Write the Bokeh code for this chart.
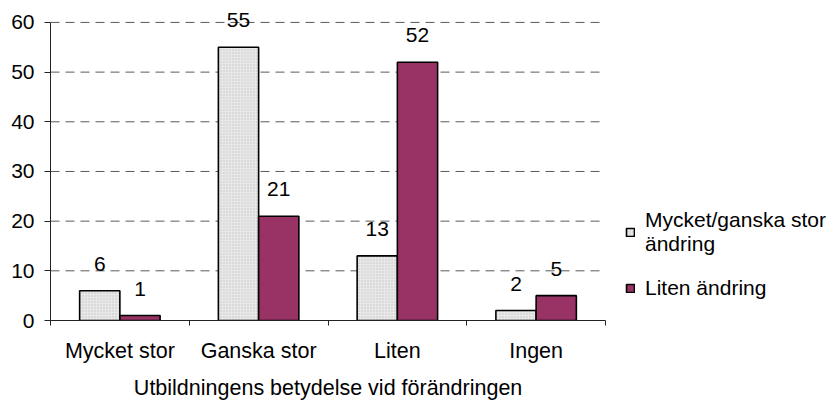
from bokeh.plotting import figure
from bokeh.models import Range1d, FixedTicker, Legend, LegendItem, ColumnDataSource, Title
from bokeh.transform import dodge
from bokeh.core.properties import value
from bokeh.embed import file_html
from bokeh.resources import INLINE

categories = ["Mycket stor", "Ganska stor", "Liten", "Ingen"]
series_names = ["Mycket/ganska stor\nändring", "Liten ändring"]
stor_andring = [6, 55, 13, 2]
liten_andring = [1, 21, 52, 5]
y_ticks = [0, 10, 20, 30, 40, 50, 60]
x_title = "Utbildningens betydelse vid förändringen"

FONT = "Liberation Sans"
FS = "21px"
AXC = "#222222"

W, H = 835, 407
LEFT, TOP, BOTTOM = 50, 12, 87
PLOT_W = 555  # width of the category area in pixels

n = len(categories)
pos = [i + 0.5 for i in range(n)]
src = ColumnDataSource(dict(
    x=pos,
    a=stor_andring,
    b=liten_andring,
    a_txt=[str(v) for v in stor_andring],
    b_txt=[str(v) for v in liten_andring],
))

# the frame spans the whole width so that the legend is not clipped;
# the category area occupies the first PLOT_W pixels of it
x_end = n * (W - LEFT) / PLOT_W
p = figure(width=W, height=H,
           x_range=Range1d(0, x_end), y_range=Range1d(0, 62),
           output_backend="svg", toolbar_location=None,
           min_border_left=LEFT, min_border_right=0,
           min_border_top=TOP, min_border_bottom=BOTTOM)
p.outline_line_color = None
p.background_fill_color = "white"
p.border_fill_color = "white"

# dashed gridlines limited to the category area
grid_y = y_ticks[1:]
p.segment(x0=[0] * len(grid_y), x1=[n] * len(grid_y), y0=grid_y, y1=grid_y,
          line_color="#5a5a5a", line_dash="9 6", line_width=1)

bw = 0.29
r1 = p.vbar(x=dodge("x", -bw / 2), top="a", width=bw, source=src,
            fill_color="#e8e8e8", hatch_pattern="dot", hatch_color="#c4c4c4",
            hatch_scale=3, hatch_weight=1,
            line_color="black", line_width=1.6)
r2 = p.vbar(x=dodge("x", bw / 2), top="b", width=bw, source=src,
            fill_color="#993366", line_color="black", line_width=1.6)

for col, off in (("a", -bw / 2), ("b", bw / 2)):
    p.text(x=dodge("x", off), y=col, text=col + "_txt", source=src,
           text_align="center", text_baseline="alphabetic", y_offset=-27,
           text_font=value(FONT), text_font_size=FS, text_color="black")

# x axis: category labels at centres, ticks at boundaries
xa = p.xaxis[0]
xa.bounds = (0, n)
xa.ticker = FixedTicker(ticks=pos, minor_ticks=list(range(n + 1)))
xa.major_label_overrides = {v: c for v, c in zip(pos, categories)}
xa.major_tick_line_color = None
xa.minor_tick_in = 0
xa.minor_tick_out = 5
xa.minor_tick_line_color = AXC
xa.axis_line_color = AXC
xa.major_label_text_font = FONT
xa.major_label_text_font_size = "21.5px"
xa.major_label_text_color = "black"
xa.major_label_standoff = 12

# axis title centred under the category area
title_fs = 21.5
title_w = 0.5 * PLOT_W - 0.5 * 18.06 * title_fs
p.add_layout(Title(text=x_title, align="left", offset=title_w,
                   text_font=FONT, text_font_size=f"{title_fs}px",
                   text_font_style="normal", text_color="black",
                   standoff=16), "below")

ya = p.yaxis[0]
ya.ticker = FixedTicker(ticks=y_ticks, minor_ticks=[])
ya.bounds = (0, 60)
ya.major_tick_in = 0
ya.major_tick_out = 6
ya.major_tick_line_color = AXC
ya.minor_tick_line_color = None
ya.axis_line_color = AXC
ya.major_label_text_font = FONT
ya.major_label_text_font_size = FS
ya.major_label_text_color = "black"
ya.major_label_standoff = 10

p.xgrid.visible = False
p.ygrid.visible = False

legend = Legend(items=[LegendItem(label=series_names[0], renderers=[r1]),
                       LegendItem(label=series_names[1], renderers=[r2])],
                location=(PLOT_W + 20, 20), padding=0, margin=0, spacing=20,
                glyph_width=10, glyph_height=10, label_standoff=10,
                label_text_font=FONT, label_text_font_size=FS,
                label_text_color="black",
                label_text_line_height=1.1,
                border_line_color=None, background_fill_alpha=0)
p.add_layout(legend, "center")

open("out.html", "w").write(file_html(p, INLINE))
